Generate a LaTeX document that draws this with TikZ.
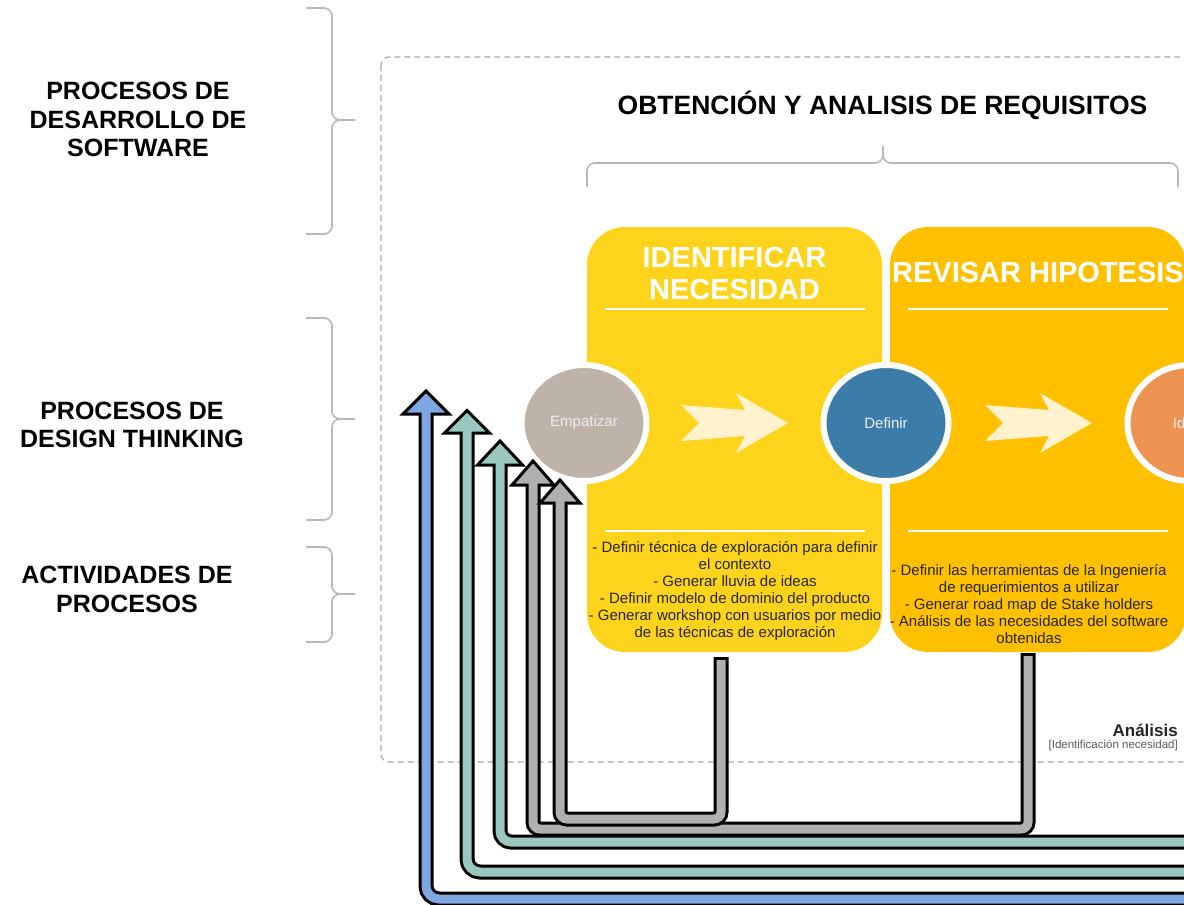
\documentclass[tikz,border=0pt]{standalone}
\usepackage{fontspec}
\setmainfont{Liberation Sans}
\usetikzlibrary{shapes.geometric,calc}
\definecolor{boxA}{HTML}{FDD31C}
\definecolor{boxB}{HTML}{FFC000}
\definecolor{cream}{HTML}{FFF2CC}
\definecolor{empC}{HTML}{BDB3A9}
\definecolor{defC}{HTML}{3B7CA8}
\definecolor{ideC}{HTML}{EE9352}
\definecolor{blueA}{HTML}{7EA6E0}
\definecolor{tealA}{HTML}{9AC7BF}
\definecolor{grayA}{HTML}{B0B0B0}
\definecolor{braceC}{HTML}{B8B8B8}
\definecolor{dashC}{HTML}{A8A8A8}
\definecolor{txtC}{HTML}{262626}
\begin{document}
\begin{tikzpicture}[x=1pt,y=-1pt,
  lbl/.style={font=\bfseries\fontsize{25}{28.5}\selectfont, align=center, inner sep=0pt},
  bracestyle/.style={draw=braceC, line width=1.6pt, rounded corners=8pt},
  frame/.style={draw=dashC, line width=1.2pt, dash pattern=on 6pt off 4pt, rounded corners=8pt},
  phase/.style={rectangle, rounded corners=38pt, minimum height=425pt, inner sep=0pt},
  phasetitle/.style={text=white, font=\bfseries\fontsize{29}{32}\selectfont, align=center, inner sep=0pt},
  rulew/.style={draw=white, line width=2pt},
  dt/.style={ellipse, draw=white, line width=6pt, minimum width=125pt, minimum height=116pt, inner sep=0pt, text=white!93!black, font=\fontsize{15}{17}\selectfont},
  acts/.style={font=\fontsize{15}{17}\selectfont, align=center, text=txtC, inner sep=0pt},
  shaftout/.style={draw=black, line width=15pt},
  shaftin/.style={line width=9pt},
  headst/.style={draw=black, line width=3pt, line join=miter},
]
\useasboundingbox (0,0) rectangle (1184,905);
\clip (0,0) rectangle (1184,905);

% left labels and braces
\node[lbl] (l1) at (138,119.5) {PROCESOS DE\\DESARROLLO DE\\SOFTWARE};
\node[lbl] (l2) at (132,425) {PROCESOS DE\\DESIGN THINKING};
\node[lbl] (l3) at (127,589.5) {ACTIVIDADES DE\\PROCESOS};
\draw[bracestyle] (306,8) -| (332,120) -- (355,120);
\draw[bracestyle] (306,234) -| (332,120) -- (355,120);
\draw[bracestyle] (306,318) -| (332,419) -- (355,419);
\draw[bracestyle] (306,520) -| (332,419) -- (355,419);
\draw[bracestyle] (306,547) -| (332,594) -- (355,594);
\draw[bracestyle] (306,642) -| (332,594) -- (355,594);

% frame
\draw[frame] (381,57) rectangle (1210,762);
\node[font=\bfseries\fontsize{26.5}{30}\selectfont, inner sep=0pt] (title) at (882.5,105) {OBTENCIÓN Y ANALISIS DE REQUISITOS};
\draw[bracestyle] (587,187) |- (883,163) -- (883,146);
\draw[bracestyle] (1178,187) |- (883,163) -- (883,146);

% phases
\node[phase, fill=boxA, minimum width=295pt] (idn) at (734.5,439.5) {};
\node[phase, fill=boxB, minimum width=296pt] (rev) at (1038,439.5) {};
\node[phasetitle] (idnT) at (734.5,274) {IDENTIFICAR\\NECESIDAD};
\node[phasetitle] (revT) at (1038,273) {REVISAR HIPOTESIS};
\draw[rulew] (605,309) -- (865,309);
\draw[rulew] (908,309) -- (1168,309);
\draw[rulew] (605,531) -- (865,531);
\draw[rulew] (908,531) -- (1168,531);

% chevrons
\fill[cream] (681,405) -- (745,410) -- (736,393) -- (788,423) -- (736,453) -- (745,436) -- (681,441) -- (699,423) -- cycle;
\fill[cream, xshift=304pt] (681,405) -- (745,410) -- (736,393) -- (788,423) -- (736,453) -- (745,436) -- (681,441) -- (699,423) -- cycle;

% design thinking steps
\node[dt, fill=empC] (emp) at (584,423) {Empatizar};
\node[dt, fill=defC] (def) at (886,423) {Definir};
\node[dt, fill=ideC] (ide) at (1190,423) {Idear};

% activities
\node[acts] (a1) at (735,591) {- Definir técnica de exploración para definir\\el contexto\\- Generar lluvia de ideas\\- Definir modelo de dominio del producto\\- Generar workshop con usuarios por medio\\de las técnicas de exploración};
\node[acts] (a2) at (1029,604) {- Definir las herramientas de la Ingeniería\\de requerimientos a utilizar\\- Generar road map de Stake holders\\- Análisis de las necesidades del software\\obtenidas};

\node[anchor=east, font=\bfseries\fontsize{17}{19}\selectfont, text=txtC, inner sep=0pt] (an) at (1178,730) {Análisis};
\node[anchor=east, font=\fontsize{11.5}{13}\selectfont, text=black!65, inner sep=0pt] (an2) at (1178,745) {[Identificación necesidad]};

% feedback arrows
\coordinate (bS) at (1200,899); \coordinate (bB) at (426,414);
\coordinate (t1S) at (1200,872); \coordinate (t1B) at (467,433);
\coordinate (t2S) at (1200,842); \coordinate (t2B) at (500,465);
\coordinate (g1S) at (1028,653); \coordinate (g1B) at (533,485);
\coordinate (g2S) at (721,657); \coordinate (g2B) at (560,503);

% blue
\draw[shaftout, rounded corners=13pt] (bS) -| (bB);
\filldraw[headst, fill=blueA] ($(bB)+(-23,0)$) -- ($(bB)+(0,-23)$) -- ($(bB)+(23,0)$) -- cycle;
\draw[shaftin, blueA, rounded corners=13pt] (bS) -| ($(bB)+(0,-3)$);
% teal 1
\draw[shaftout, rounded corners=13pt] (t1S) -| (t1B);
\filldraw[headst, fill=tealA] ($(t1B)+(-22.5,0)$) -- ($(t1B)+(0,-22.5)$) -- ($(t1B)+(22.5,0)$) -- cycle;
\draw[shaftin, tealA, rounded corners=13pt] (t1S) -| ($(t1B)+(0,-3)$);
% teal 2
\draw[shaftout, rounded corners=11pt] (t2S) -| (t2B);
\filldraw[headst, fill=tealA] ($(t2B)+(-22.5,0)$) -- ($(t2B)+(0,-24)$) -- ($(t2B)+(22.5,0)$) -- cycle;
\draw[shaftin, tealA, rounded corners=11pt] (t2S) -| ($(t2B)+(0,-3)$);
% gray 1
\draw[shaftout, rounded corners=7pt] (g1S) -- (1028,829) -| (g1B);
\filldraw[headst, fill=grayA] ($(g1B)+(-21,0)$) -- ($(g1B)+(0,-24)$) -- ($(g1B)+(21,0)$) -- cycle;
\draw[shaftin, grayA, rounded corners=7pt] ($(g1S)+(0,3)$) -- (1028,829) -| ($(g1B)+(0,-3)$);
% gray 2
\draw[shaftout, rounded corners=7pt] (g2S) -- (721,819) -| (g2B);
\filldraw[headst, fill=grayA] ($(g2B)+(-20,0)$) -- ($(g2B)+(0,-23)$) -- ($(g2B)+(20,0)$) -- cycle;
\draw[shaftin, grayA, rounded corners=7pt] ($(g2S)+(0,3)$) -- (721,819) -| ($(g2B)+(0,-3)$);
\end{tikzpicture}
\end{document}
